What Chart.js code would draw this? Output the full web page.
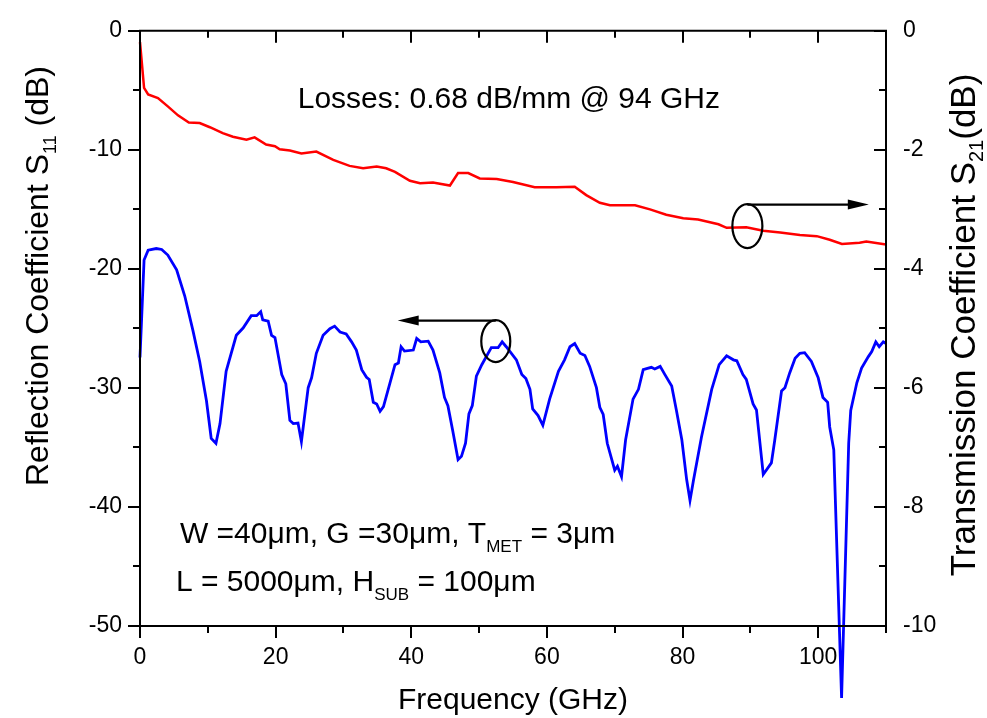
<!DOCTYPE html>
<html><head><meta charset="utf-8">
<script src="https://cdn.jsdelivr.net/npm/chart.js@4.4.1/dist/chart.umd.min.js"></script>
<style>html,body{margin:0;padding:0;background:#fff;}#wrap{width:987px;height:718px;position:relative;}canvas{display:block;}</style>
</head><body><div id="wrap"><canvas id="c" width="987" height="718"></canvas></div>
<script>
// ---- Data ----
const s21Freq = [0,0.6,1.2,2.65,4.1,5.6,7.2,8.8,10.3,12.2,13.7,15.7,16.9,18.6,19.9,20.6,22.1,23.8,26.0,28.5,30.9,32.9,34.9,36.3,37.6,39.8,41.3,43.2,45.7,46.9,48.4,50.1,52.6,55.0,58.2,61.4,64.1,65.8,67.8,69.3,73.0,75.2,77.6,80.1,82.3,85.3,86.5,89.4,91.9,94.4,97.3,99.8,101.7,103.5,106.1,107.1,110];
const s21Values = [-0.19,-0.96,-1.07,-1.13,-1.27,-1.42,-1.54,-1.55,-1.62,-1.72,-1.78,-1.83,-1.79,-1.91,-1.94,-1.99,-2.01,-2.06,-2.03,-2.17,-2.27,-2.31,-2.28,-2.31,-2.37,-2.52,-2.56,-2.55,-2.60,-2.39,-2.39,-2.48,-2.49,-2.54,-2.63,-2.63,-2.62,-2.76,-2.89,-2.93,-2.93,-3.00,-3.09,-3.15,-3.17,-3.25,-3.31,-3.30,-3.36,-3.39,-3.43,-3.45,-3.51,-3.58,-3.56,-3.54,-3.59];

const s11Freq = [0,0.6,1.2,2.4,3.2,4.1,5.4,6.6,7.8,8.8,9.8,10.5,11.2,11.8,12.7,14.2,15.2,16.4,17.2,17.8,18.1,18.9,19.4,19.9,20.9,21.5,22.1,22.6,23.3,23.8,24.8,25.3,26.0,27.0,28.0,28.7,29.5,30.4,31.2,31.9,32.7,33.4,33.8,34.4,34.9,35.4,35.9,36.6,37.6,38.1,38.5,39.0,40.3,40.8,41.4,42.5,43.2,44.2,44.9,45.4,46.1,46.9,47.4,48.0,48.5,49.0,49.6,50.4,51.8,52.8,53.4,54.0,55.5,56.3,56.9,57.5,57.9,58.7,59.4,60.4,61.7,62.6,63.4,64.1,64.9,65.6,66.3,67.3,67.8,68.3,68.9,70.0,70.4,71.0,71.6,72.7,73.5,74.2,74.7,75.4,75.9,76.7,77.4,78.4,79.1,79.9,80.6,81.1,81.6,82.8,84.3,85.4,86.5,87.5,88.0,88.9,89.4,90.4,90.9,91.9,93.1,93.6,94.6,95.1,95.8,96.6,97.3,98.0,99.0,100.0,100.7,101.4,101.7,102.3,103.45,104.5,104.8,105.7,106.4,107.4,107.9,108.5,109.0,109.6,110];
const s11Values = [-27.45,-19.25,-18.43,-18.29,-18.37,-18.84,-20.08,-22.28,-25.17,-27.78,-31.08,-34.24,-34.65,-33.0,-28.6,-25.58,-24.97,-23.93,-23.93,-23.6,-24.28,-24.4,-25.58,-25.77,-28.88,-29.65,-32.73,-33.0,-32.95,-34.51,-29.98,-29.15,-27.09,-25.58,-25.03,-24.81,-25.3,-25.47,-26.13,-26.82,-28.47,-29.1,-29.29,-31.21,-31.35,-31.96,-31.57,-30.12,-28.05,-27.91,-26.54,-26.9,-26.82,-25.85,-26.13,-26.07,-26.82,-28.74,-30.8,-31.49,-33.56,-36.03,-35.75,-34.65,-32.18,-31.49,-29.02,-28.05,-26.62,-26.62,-26.13,-26.54,-27.64,-28.88,-29.21,-30.12,-31.77,-32.32,-33.14,-30.94,-28.61,-27.64,-26.54,-26.27,-27.09,-27.28,-28.19,-29.98,-31.63,-32.23,-34.65,-36.91,-36.58,-37.46,-34.38,-30.94,-30.12,-28.47,-28.38,-28.27,-28.41,-28.19,-28.88,-29.84,-31.9,-34.38,-37.68,-39.46,-37.8,-34.1,-30.12,-28.05,-27.31,-27.64,-27.72,-28.88,-29.29,-31.35,-31.85,-37.27,-36.3,-34.38,-30.25,-29.98,-28.74,-27.5,-27.09,-27.04,-27.78,-29.15,-30.8,-31.21,-33.28,-35.2,-56.05,-34.65,-31.9,-29.57,-28.33,-27.37,-26.95,-26.13,-26.54,-26.13,-26.27];

const xTickLabels = [0,20,40,60,80,100];
const leftTickLabels = [0,-10,-20,-30,-40,-50];
const rightTickLabels = [0,-2,-4,-6,-8,-10];

const FONT = "'Liberation Sans', Arial, Helvetica, sans-serif";
Chart.defaults.font.family = FONT;
Chart.defaults.color = '#000';

function toXY(xs, ys){ return xs.map((x,i)=>({x:x, y:ys[i]})); }

function drawRich(ctx, parts, size, subSize, subDy){
  let total = 0;
  const widths = parts.map(p=>{ ctx.font = (p.sub?subSize:size)+'px '+FONT; const w = ctx.measureText(p.t).width; total += w; return w; });
  let x = -total/2;
  parts.forEach((p,i)=>{ ctx.font = (p.sub?subSize:size)+'px '+FONT; ctx.fillText(p.t, x, p.sub?subDy:0); x += widths[i]; });
}
function drawRichLeft(ctx, parts, x0, y0, size, subSize, subDy){
  let x = x0;
  parts.forEach(p=>{ ctx.font = (p.sub?subSize:size)+'px '+FONT; ctx.fillText(p.t, x, y0 + (p.sub?subDy:0)); x += ctx.measureText(p.t).width; });
}

const framePlugin = {
  id:'frame',
  afterDraw(chart){
    const ctx = chart.ctx; const a = chart.chartArea;
    const sx = chart.scales.x, sy = chart.scales.y, sy2 = chart.scales.y2;
    ctx.save();
    ctx.strokeStyle = '#000'; ctx.lineWidth = 2; ctx.lineCap='butt';
    ctx.beginPath(); ctx.rect(a.left, a.top, a.right-a.left, a.bottom-a.top); ctx.stroke();
    ctx.beginPath();
    sx.ticks.forEach(t=>{
      const p = Math.round(sx.getPixelForValue(t.value));
      const major = xTickLabels.includes(t.value);
      const len = major?12:7;
      ctx.moveTo(p, a.bottom); ctx.lineTo(p, a.bottom+len);
      ctx.moveTo(p, a.top); ctx.lineTo(p, a.top+len);
    });
    sy.ticks.forEach(t=>{
      const p = Math.round(sy.getPixelForValue(t.value));
      const major = leftTickLabels.includes(t.value);
      const len = major?12:7;
      ctx.moveTo(a.left, p); ctx.lineTo(a.left-len, p);
    });
    sy2.ticks.forEach(t=>{
      const p = Math.round(sy2.getPixelForValue(t.value));
      const major = rightTickLabels.includes(t.value);
      const len = major?12:7;
      ctx.moveTo(a.right, p); ctx.lineTo(a.right-len, p);
    });
    ctx.stroke();

    // axis titles
    ctx.fillStyle = '#000'; ctx.textBaseline = 'alphabetic';
    ctx.save(); ctx.translate(48, 276); ctx.rotate(-Math.PI/2);
    drawRich(ctx, [{t:'Reflection Coefficient S'},{t:'11',sub:true},{t:' (dB)'}], 32, 18, 8);
    ctx.restore();
    ctx.save(); ctx.translate(975, 325); ctx.rotate(-Math.PI/2);
    drawRich(ctx, [{t:'Transmission Coefficient S'},{t:'21',sub:true},{t:'(dB)'}], 35, 20, 8);
    ctx.restore();
    ctx.save(); ctx.translate((a.left+a.right)/2, 709);
    drawRich(ctx, [{t:'Frequency (GHz)'}], 30, 18, 8);
    ctx.restore();
    ctx.restore();
  }
};

// annotation anchors in data coordinates
const notes = [
  {x:23.26, y:-6.52, parts:[{t:'Losses: 0.68 dB/mm @ 94 GHz'}]},
  {x:5.88, y:-42.99, parts:[{t:'W =40\u03bcm, G =30\u03bcm, T'},{t:'MET',sub:true},{t:' = 3\u03bcm'}]},
  {x:5.3, y:-47.03, parts:[{t:'L = 5000\u03bcm, H'},{t:'SUB',sub:true},{t:' = 100\u03bcm'}]}
];
const blueMarker = {cx:52.46, cy:-26.07, arrowY:-24.34, tipX:38.0};
const redMarker = {cx:89.56, cy:-3.28, arrowY:-2.92, tipX:107.47};

function arrow(ctx, x1, y, x2){
  ctx.beginPath(); ctx.moveTo(x1, y); ctx.lineTo(x2 + (x2>x1?-18:18), y); ctx.stroke();
  const dir = x2>x1?-1:1;
  ctx.beginPath(); ctx.moveTo(x2, y); ctx.lineTo(x2+dir*21, y-5); ctx.lineTo(x2+dir*21, y+5); ctx.closePath(); ctx.fill();
}

const notePlugin = {
  id:'notes',
  afterDatasetsDraw(chart){
    const ctx = chart.ctx; const sx = chart.scales.x, sy = chart.scales.y, sy2 = chart.scales.y2;
    ctx.save(); ctx.fillStyle='#000'; ctx.strokeStyle='#000'; ctx.textBaseline='alphabetic';
    notes.forEach(n=>{ drawRichLeft(ctx, n.parts, sx.getPixelForValue(n.x), sy.getPixelForValue(n.y), 30, 17, 9); });
    ctx.lineWidth = 2.2;
    let cx = sx.getPixelForValue(blueMarker.cx), cy = sy.getPixelForValue(blueMarker.cy);
    ctx.beginPath(); ctx.ellipse(cx, cy, 14.5, 21, 0, 0, Math.PI*2); ctx.stroke();
    arrow(ctx, cx, sy.getPixelForValue(blueMarker.arrowY), sx.getPixelForValue(blueMarker.tipX));
    cx = sx.getPixelForValue(redMarker.cx); cy = sy2.getPixelForValue(redMarker.cy);
    ctx.beginPath(); ctx.ellipse(cx, cy, 15, 22, 0, 0, Math.PI*2); ctx.stroke();
    arrow(ctx, cx, sy2.getPixelForValue(redMarker.arrowY), sx.getPixelForValue(redMarker.tipX));
    ctx.restore();
  }
};

new Chart(document.getElementById('c'), {
  type:'line',
  data:{ datasets:[
    {label:'S21', data: toXY(s21Freq, s21Values), yAxisID:'y2', borderColor:'#ff0000', borderWidth:2.5, pointRadius:0, tension:0, fill:false, clip:false},
    {label:'S11', data: toXY(s11Freq, s11Values), yAxisID:'y', borderColor:'#0000ff', borderWidth:2.8, pointRadius:0, tension:0, fill:false, clip:false}
  ]},
  options:{
    responsive:false, animation:false, devicePixelRatio:1,
    layout:{padding:{top:20,left:0,right:0,bottom:0}},
    plugins:{legend:{display:false}, tooltip:{enabled:false}},
    scales:{
      x:{type:'linear', position:'bottom', min:0, max:110,
         afterFit(s){ s.height = 92; },
         grid:{display:false, drawTicks:true, tickLength:12},
         border:{display:false},
         ticks:{stepSize:10, autoSkip:false, maxRotation:0, padding:6, font:{size:23}, color:'#000',
                callback:(v)=> xTickLabels.includes(v) ? String(v) : ''}},
      y:{type:'linear', position:'left', min:-50, max:0,
         afterFit(s){ s.width = 140; },
         grid:{display:false, drawTicks:true, tickLength:12},
         border:{display:false},
         ticks:{stepSize:5, autoSkip:false, padding:6, font:{size:23}, color:'#000',
                callback:(v)=> leftTickLabels.includes(v) ? String(v) : ''}},
      y2:{type:'linear', position:'right', min:-10, max:0,
         afterFit(s){ s.width = 101; },
         grid:{display:false, drawTicks:false},
         border:{display:false},
         ticks:{stepSize:1, autoSkip:false, padding:17, font:{size:23}, color:'#000',
                callback:(v)=> rightTickLabels.includes(v) ? String(v) : ''}}
    }
  },
  plugins:[framePlugin, notePlugin]
});
</script></body></html>
